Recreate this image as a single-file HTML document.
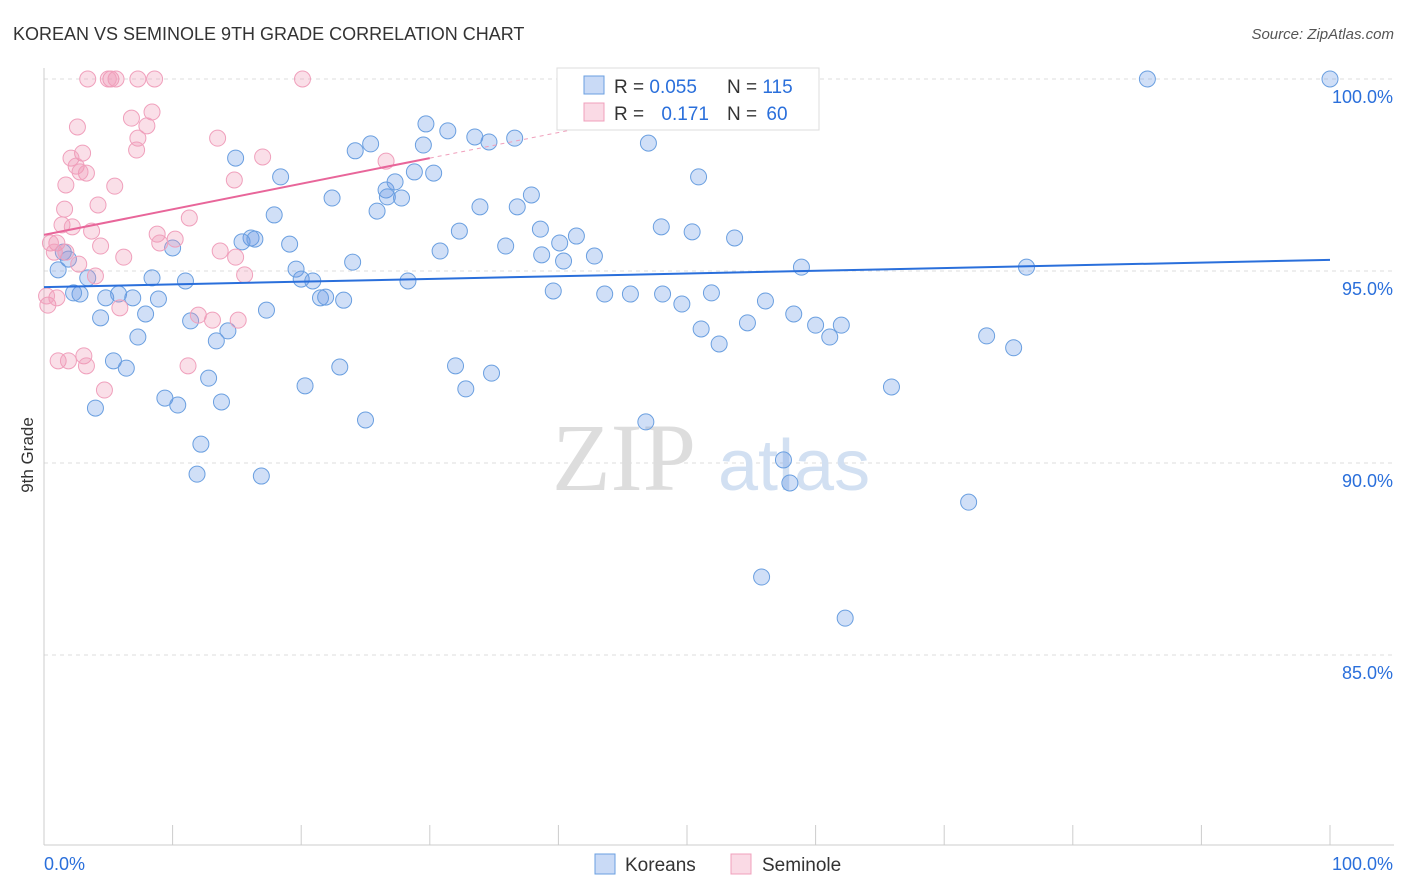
<!DOCTYPE html>
<html><head><meta charset="utf-8">
<style>
body{margin:0;background:#fff;font-family:"Liberation Sans",sans-serif;}
#c{position:absolute;left:0;top:0;}
</style></head>
<body>
<svg id="c" width="1406" height="892" xmlns="http://www.w3.org/2000/svg">
<text x="13" y="40" font-size="18" fill="#333">KOREAN VS SEMINOLE 9TH GRADE CORRELATION CHART</text>
<text x="1394" y="39" font-size="15" fill="#555" font-style="italic" text-anchor="end">Source: ZipAtlas.com</text>
<text x="0" y="0" font-size="17" fill="#333" transform="translate(33,455) rotate(-90)" text-anchor="middle">9th Grade</text>
<g id="grid"></g>
<g>
<text x="552" y="490" font-size="96" fill="#ddd" font-family="Liberation Serif,serif">ZIP</text>
<text x="718" y="490" font-size="72" fill="#d2e0f2">atlas</text>
</g>
<g id="axes"></g>
<g id="pts"></g>
<g id="trend"></g>
<g>
<rect x="557" y="68" width="262" height="62" fill="#fff" stroke="#ddd"/>
<rect x="584" y="76" width="20" height="18" fill="rgba(100,150,230,0.35)" stroke="#6a9fe0"/>
<rect x="584" y="103" width="20" height="18" fill="rgba(240,150,180,0.35)" stroke="#f0a0bc"/>
<text x="614" y="93" font-size="19" fill="#333">R = <tspan fill="#2a6fdb">0.055</tspan></text>
<text x="727" y="93" font-size="19" fill="#333">N = <tspan fill="#2a6fdb">115</tspan></text>
<text x="614" y="120" font-size="19" fill="#333">R = <tspan fill="#2a6fdb" dx="12">0.171</tspan></text>
<text x="727" y="120" font-size="19" fill="#333">N = <tspan fill="#2a6fdb" dx="4">60</tspan></text>
</g>
<g>
<rect x="595" y="854" width="20" height="20" fill="rgba(100,150,230,0.35)" stroke="#6a9fe0"/>
<text x="625" y="871" font-size="19" fill="#333">Koreans</text>
<text x="0" y="0" font-size="1" fill="none"></text>
<rect x="731" y="854" width="20" height="20" fill="rgba(240,150,180,0.35)" stroke="#f0a0bc"/>
<text x="762" y="871" font-size="19" fill="#333">Seminole</text>
</g>
</svg>
<script>
const yTicks=[100,95,90,85];
const yTickLabels=["100.0%","95.0%","90.0%","85.0%"];
const xTicks=[0,10,20,30,40,50,60,70,80,90,100];
const xTickLabels=["0.0%","100.0%"];
const koreanX=[40.8,51.0,85.8,100,29.7,31.4,33.5,34.6,36.6,47.0,25.4,24.2,29.5,14.9,18.4,26.6,27.3,28.8,30.3,22.4,26.7,27.8,25.9,33.9,36.8,37.9,17.9,32.3,38.6,41.4,40.1,35.9,30.8,42.8,40.4,38.7,48.0,50.4,53.7,50.9,16.1,15.4,16.4,19.1,10.0,24.0,19.6,20.0,20.9,28.3,8.4,11.0,76.4,58.9,1.1,1.9,1.5,3.4,2.8,2.3,4.8,5.8,6.9,8.9,7.9,4.4,11.4,17.3,21.5,21.9,23.3,39.6,43.6,45.6,48.1,49.6,51.9,56.1,58.3,54.7,51.1,52.5,60.0,61.1,62.0,73.3,75.4,14.3,13.4,7.3,5.4,6.4,12.8,9.4,10.4,13.8,4.0,20.3,23.0,32.0,32.8,34.8,25.0,46.8,65.9,12.2,11.9,16.9,57.5,58.0,71.9,55.8,62.3];
const koreanY=[100,100,100,100,98.83,98.65,98.49,98.36,98.46,98.33,98.31,98.13,98.28,97.94,97.45,97.11,97.32,97.58,97.55,96.90,96.93,96.90,96.56,96.67,96.67,96.98,96.46,96.04,96.09,95.91,95.73,95.65,95.52,95.39,95.26,95.42,96.15,96.02,95.86,97.45,95.86,95.76,95.83,95.70,95.60,95.23,95.05,94.79,94.74,94.74,94.82,94.74,95.10,95.10,95.03,95.31,95.49,94.82,94.40,94.43,94.30,94.40,94.30,94.27,93.88,93.78,93.70,93.98,94.30,94.32,94.24,94.48,94.40,94.40,94.40,94.14,94.43,94.22,93.88,93.65,93.49,93.10,93.59,93.28,93.59,93.31,93.00,93.44,93.18,93.28,92.66,92.47,92.21,91.69,91.51,91.59,91.43,92.01,92.50,92.53,91.93,92.34,91.12,91.07,91.98,90.49,89.71,89.66,90.08,89.48,88.98,87.03,85.96];
const seminoleX=[3.4,5.2,5.6,7.3,8.6,20.1,5.0,8.4,6.8,8.0,2.6,7.3,13.5,7.2,3.0,2.1,17.0,2.5,3.3,2.8,26.6,1.7,5.5,14.8,4.2,1.6,11.3,1.4,2.2,3.7,8.8,10.2,9.0,4.4,13.7,1.0,0.5,0.8,1.7,6.2,14.9,2.7,15.6,4.0,0.3,1.0,5.9,12.0,13.1,15.1,1.1,1.9,3.1,3.3,4.7,11.2,0.2];
const seminoleY=[100,100,100,100,100,100,100,99.14,98.98,98.78,98.75,98.46,98.46,98.15,98.07,97.94,97.97,97.73,97.55,97.58,97.86,97.24,97.21,97.37,96.72,96.61,96.38,96.20,96.15,96.04,95.96,95.83,95.73,95.65,95.52,95.73,95.73,95.49,95.49,95.36,95.36,95.18,94.90,94.87,94.11,94.30,94.04,93.85,93.72,93.72,92.66,92.66,92.79,92.53,91.90,92.53,94.35];
const koreanTrend=[[0,94.58],[100,95.29]];
const seminoleTrend=[[0,95.94],[30,97.94]];
const seminoleDash=[[30,97.94],[42,98.74]];

const NS="http://www.w3.org/2000/svg";
const sx=v=>44+v*12.86;
const sy=v=>79+(100-v)*38.4;
function mk(tag,attrs,parent){const e=document.createElementNS(NS,tag);for(const k in attrs)e.setAttribute(k,attrs[k]);document.getElementById(parent).appendChild(e);return e;}

yTicks.forEach((t,i)=>{
 const l=mk('line',{x1:44,x2:1394,y1:sy(t),y2:sy(t),stroke:'#ddd','stroke-dasharray':'4,4'},'grid');
 
 
 const tx=mk('text',{x:1393,y:sy(t)+24,'font-size':18,fill:'#2a6fdb','text-anchor':'end'},'grid');
 tx.textContent=yTickLabels[i];
 
 
});
const ax=mk('line',{x1:44,x2:44,y1:68,y2:845,stroke:'#ccc'},'axes');


const bx=mk('line',{x1:44,x2:1394,y1:845,y2:845,stroke:'#ccc'},'axes');


xTicks.forEach(t=>{
 const l=mk('line',{x1:sx(t),x2:sx(t),y1:825,y2:845,stroke:'#ccc'},'axes');
 
 
});
const xl0=mk('text',{x:44,y:870,'font-size':18,fill:'#2a6fdb'},'axes');
xl0.textContent=xTickLabels[0];


const xl1=mk('text',{x:1393,y:870,'font-size':18,fill:'#2a6fdb','text-anchor':'end'},'axes');
xl1.textContent=xTickLabels[1];



koreanX.forEach((v,i)=>{
 const c=mk('circle',{cx:sx(v),cy:sy(koreanY[i]),r:8,fill:'rgba(100,150,230,0.3)',stroke:'#6a9fe0','stroke-width':1},'pts');
 
 
});
seminoleX.forEach((v,i)=>{
 const c=mk('circle',{cx:sx(v),cy:sy(seminoleY[i]),r:8,fill:'rgba(240,150,180,0.3)',stroke:'#f0a0bc','stroke-width':1},'pts');
 
 
});
const kt=mk('line',{x1:sx(koreanTrend[0][0]),y1:sy(koreanTrend[0][1]),x2:sx(koreanTrend[1][0]),y2:sy(koreanTrend[1][1]),stroke:'#2a6fdb','stroke-width':2},'trend');


const st=mk('line',{x1:sx(seminoleTrend[0][0]),y1:sy(seminoleTrend[0][1]),x2:sx(seminoleTrend[1][0]),y2:sy(seminoleTrend[1][1]),stroke:'#e8669a','stroke-width':2},'trend');


const sd=mk('line',{x1:sx(seminoleDash[0][0]),y1:sy(seminoleDash[0][1]),x2:sx(seminoleDash[1][0]),y2:sy(seminoleDash[1][1]),stroke:'#f0a0bc','stroke-width':1,'stroke-dasharray':'4,4'},'trend');


</script>
</body></html>
